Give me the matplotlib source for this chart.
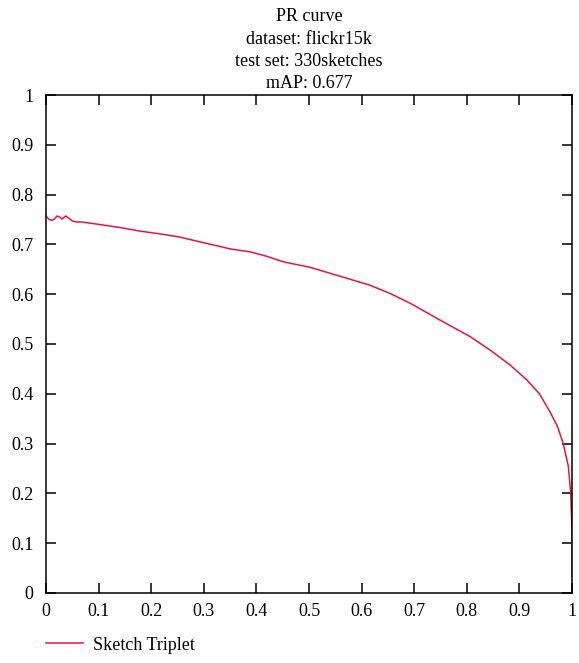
import matplotlib
matplotlib.use("Agg")
import matplotlib.pyplot as plt

# recall / precision
recall = [0.0, 0.005, 0.011, 0.016, 0.021, 0.026, 0.030, 0.034, 0.037,
          0.043, 0.050, 0.058, 0.068, 0.095, 0.140, 0.177, 0.217, 0.253,
          0.293, 0.350, 0.388, 0.420, 0.451, 0.502, 0.540, 0.597, 0.616,
          0.655, 0.692, 0.749, 0.806, 0.844, 0.882, 0.914, 0.938, 0.958,
          0.972, 0.983, 0.993, 0.9975, 1.0, 1.0]
precision = [0.757, 0.751, 0.748, 0.751, 0.757, 0.755, 0.751, 0.754, 0.757,
             0.753, 0.747, 0.745, 0.745, 0.741, 0.734, 0.727, 0.721, 0.715,
             0.705, 0.691, 0.685, 0.676, 0.665, 0.654, 0.642, 0.624, 0.618,
             0.601, 0.582, 0.548, 0.515, 0.488, 0.458, 0.428, 0.400, 0.364,
             0.335, 0.301, 0.254, 0.200, 0.120, 0.033]

title_lines = ["PR curve", "dataset: flickr15k", "test set: 330sketches", "mAP: 0.677"]
series_label = "Sketch Triplet"
ticks = [0, 0.1, 0.2, 0.3, 0.4, 0.5, 0.6, 0.7, 0.8, 0.9, 1]
tick_labels = ["0", "0.1", "0.2", "0.3", "0.4", "0.5", "0.6", "0.7", "0.8", "0.9", "1"]

plt.rcParams.update({
    "font.family": "Liberation Serif",
    "font.size": 13,
    "axes.linewidth": 1.1,
})

fig = plt.figure(figsize=(5.79, 6.63), dpi=100)
ax = fig.add_axes([0.0795, 0.1056, 0.9085, 0.7511])

ax.plot(recall, precision, color="#e3173d", linewidth=1.1, label=series_label,
        solid_joinstyle="round")

ax.set_xlim(0, 1)
ax.set_ylim(0, 1)
ax.set_xticks(ticks)
ax.set_xticklabels(tick_labels)
ax.set_yticks(ticks)
ax.set_yticklabels(tick_labels)
ax.tick_params(direction="in", length=7, width=1.1, top=True, right=True,
               labelsize=13, pad=7)
ax.tick_params(axis="y", pad=9)

ax.set_title("\n".join(title_lines), fontsize=13, linespacing=1.4, pad=5)

ax.legend(loc="upper left", bbox_to_anchor=(-0.03, -0.055), frameon=False,
          handlelength=2.0, handletextpad=0.55, fontsize=13)

fig.savefig("out.png", dpi=100)
